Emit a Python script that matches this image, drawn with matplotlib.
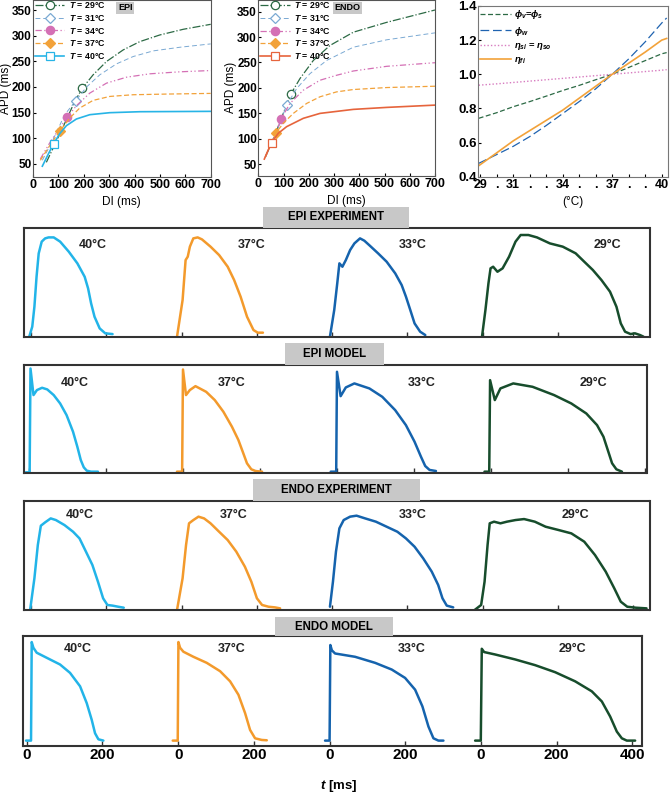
import matplotlib
matplotlib.use('Agg')
import matplotlib.pyplot as plt
from matplotlib.patches import Rectangle

plt.rcParams['font.family'] = ['Liberation Sans', 'DejaVu Sans']
plt.rcParams['font.weight'] = 'bold'
plt.rcParams['mathtext.fontset'] = 'custom'
plt.rcParams['mathtext.it'] = 'Liberation Sans:italic:bold'
plt.rcParams['mathtext.rm'] = 'Liberation Sans:bold'

# ---- restitution curves (top left / top middle) ----
rest_labels = ['29', '31', '34', '37', '40']

epi_di = [
    [52.6, 92, 131.6, 164.5, 194.7, 236.8, 289.5, 355.3, 421, 500, 592, 700],
    [36.8, 79, 125, 168.4, 210.5, 263, 329, 394.7, 473.7, 579, 700],
    [29, 65.8, 105.3, 134.2, 171, 223.7, 289.5, 368.4, 460.5, 579, 700],
    [29, 65.8, 105.3, 144.7, 184.2, 236.8, 302.6, 394.7, 526.3, 700],
    [36.8, 59.2, 81.6, 105.3, 131.6, 171, 223.7, 302.6, 421, 700],
]
epi_apd = [
    [53, 94, 136.2, 171.8, 197.7, 223.6, 249.6, 272.2, 288.4, 301.4, 312.4, 322.1],
    [57, 97.3, 146, 173, 199.7, 223.6, 245, 259.3, 270.3, 277.4, 283.9],
    [59.7, 90.8, 120, 140.7, 163.4, 188, 207.4, 219, 225.6, 229.5, 232],
    [57, 85.6, 113.5, 139.4, 158.9, 173.8, 181.5, 184.8, 186.1, 187.4],
    [45.5, 68.1, 89.5, 109, 124.5, 137.5, 145.9, 149.8, 151.7, 152.4],
]
epi_mark_di = [194.7, 168.4, 134.2, 105.3, 81.6]
epi_mark_apd = [197.7, 173, 140.7, 113.5, 89.5]

endo_di = [
    [28, 46, 66, 99, 128, 165, 218, 284, 376.5, 508.6, 700],
    [28, 46, 66, 112.3, 152, 204.8, 270.8, 376.5, 508.6, 700],
    [28, 46, 59.4, 89.8, 125.5, 178.3, 244.4, 310.4, 376.5, 508.6, 700],
    [28, 46, 52.8, 68.7, 99, 138.7, 191.5, 244.4, 310.4, 376.5, 508.6, 700],
    [23.8, 39.6, 52.8, 79.3, 112.3, 178.3, 244.4, 376.5, 508.6, 700],
]
endo_apd = [
    [64, 84, 107.3, 149.7, 187, 218.2, 254, 283.5, 309.6, 329, 353.3],
    [64, 84, 104, 166, 198.7, 228, 254, 280, 294.6, 308.3],
    [64, 84, 97.5, 138.6, 169.3, 195.4, 215, 224.8, 233.2, 242.4, 249.5],
    [64, 84, 92.3, 110.6, 130.2, 149.7, 169.3, 182.4, 192.1, 196.7, 200.6, 203.2],
    [59.7, 78, 92.3, 110.6, 123.6, 140, 149.7, 157.6, 161.5, 166],
]
endo_mark_di = [128, 112.3, 89.8, 68.7, 52.8]
endo_mark_apd = [187, 166, 138.6, 110.6, 92.3]

# ---- temperature factors (top right) ----
temps = [28.9, 30, 31, 32, 33, 34, 35, 36, 37, 38, 39, 40, 40.3]
phi_vs = [0.742, 0.775, 0.81, 0.84, 0.872, 0.905, 0.935, 0.968, 1.0, 1.04, 1.08, 1.12, 1.127]
phi_w = [0.478, 0.53, 0.578, 0.635, 0.70, 0.77, 0.84, 0.915, 1.0, 1.09, 1.19, 1.30, 1.33]
eta_s = [0.936, 0.944, 0.952, 0.96, 0.968, 0.976, 0.984, 0.992, 1.0, 1.008, 1.016, 1.024, 1.027]
eta_fi = [0.464, 0.54, 0.61, 0.67, 0.73, 0.79, 0.86, 0.93, 1.0, 1.065, 1.13, 1.20, 1.21]
temp_ticks = [29, 30, 31, 32, 33, 34, 35, 36, 37, 38, 39, 40]
temp_ticklabels = ['29', '.', '31', '.', '.', '34', '.', '.', '37', '.', '.', '40']

# ---- action potentials (bottom strips), order 40, 37, 33, 29 ----
ap_temps = ['40°C', '37°C', '33°C', '29°C']
seg_start = [0, 400, 800, 1200]

epi_exp_t = [
    [-4.7, 3.3, 9.0, 14.7, 20.4, 28.4, 37.5, 46.6, 60.3, 77.4, 100.3, 123.1, 142.5, 151.6, 159.6, 168.7, 182.4, 197.2, 216.6],
    [-12.2, 2.6, 10.6, 16.3, 22.0, 31.1, 42.6, 54.0, 76.8, 99.6, 122.4, 139.5, 156.7, 173.8, 190.9, 202.3, 216.0],
    [-6.0, 5.4, 13.4, 19.1, 27.1, 36.2, 47.6, 59.0, 73.9, 85.3, 99.0, 121.8, 144.6, 167.4, 184.5, 195.9, 207.4, 218.8, 233.6, 247.3],
    [-2.1, 7.0, 15.0, 20.6, 27.5, 38.9, 52.6, 69.8, 86.9, 100.6, 121.1, 143.9, 178.2, 212.4, 246.6, 269.5, 292.3, 315.1, 337.9, 355.0, 366.5, 377.9, 392.7, 404.1, 417.8, 426.9],
]
epi_exp_v = [
    [0, 0.092, 0.275, 0.55, 0.764, 0.872, 0.902, 0.911, 0.911, 0.872, 0.78, 0.673, 0.55, 0.443, 0.306, 0.183, 0.076, 0.031, 0.024],
    [0, 0.336, 0.703, 0.734, 0.826, 0.902, 0.911, 0.893, 0.826, 0.749, 0.642, 0.52, 0.367, 0.183, 0.061, 0.037, 0.037],
    [0, 0.245, 0.489, 0.673, 0.642, 0.703, 0.795, 0.856, 0.902, 0.881, 0.838, 0.765, 0.688, 0.581, 0.474, 0.367, 0.245, 0.122, 0.046, 0.015],
    [0, 0.245, 0.489, 0.627, 0.642, 0.596, 0.627, 0.734, 0.872, 0.933, 0.933, 0.911, 0.856, 0.826, 0.765, 0.688, 0.612, 0.52, 0.413, 0.275, 0.122, 0.046, 0.024, 0.031, 0.015, 0],
]

epi_mod_t = [
    [-8.4, 1.7, 3.9, 11.7, 20.6, 34.0, 47.4, 64.2, 80.9, 97.6, 114.4, 125.5, 134.5, 142.3, 150.1, 161.2, 179.1],
    [-15.6, -2.2, 0.0, 7.8, 17.8, 32.4, 60.2, 82.6, 104.9, 127.2, 143.9, 155.1, 166.2, 177.4, 188.5, 205.3],
    [-16.2, -2.0, 0.0, 9.5, 22.9, 45.2, 84.2, 117.7, 151.1, 179.0, 201.4, 218.1, 229.2, 240.4, 257.1],
    [-16.8, -4.5, -2.3, 10.0, 24.5, 57.9, 108.1, 163.9, 208.6, 247.6, 275.5, 292.2, 303.4, 314.6, 325.7, 340.2],
]
epi_mod_v = [
    [0.009, 0.009, 0.963, 0.719, 0.765, 0.786, 0.771, 0.719, 0.642, 0.535, 0.382, 0.245, 0.122, 0.055, 0.024, 0.015, 0.015],
    [0.015, 0.015, 0.954, 0.719, 0.765, 0.801, 0.749, 0.673, 0.566, 0.428, 0.306, 0.199, 0.092, 0.037, 0.021, 0.015],
    [0.015, 0.015, 0.933, 0.709, 0.789, 0.826, 0.78, 0.703, 0.581, 0.443, 0.291, 0.153, 0.067, 0.031, 0.021],
    [0.015, 0.015, 0.856, 0.673, 0.78, 0.826, 0.795, 0.719, 0.642, 0.55, 0.443, 0.336, 0.214, 0.092, 0.037, 0.015],
]

endo_exp_t = [
    [-2.4, 9.0, 18.1, 26.1, 37.5, 52.3, 66.0, 88.9, 111.7, 128.8, 145.9, 163.0, 177.8, 191.5, 202.9, 216.6, 231.5, 246.3],
    [-12.2, 2.6, 11.8, 19.7, 31.2, 44.8, 59.7, 76.8, 99.6, 122.4, 145.2, 168.1, 185.2, 200.0, 213.7, 230.8, 247.9, 261.6],
    [-6.0, 2.0, 10.0, 19.1, 30.5, 47.6, 64.7, 87.5, 116.1, 144.6, 173.1, 195.9, 218.8, 241.6, 264.4, 281.5, 292.9, 304.3, 321.4],
    [-25.0, -4.4, 4.7, 12.7, 18.4, 29.8, 46.9, 64.1, 86.9, 109.7, 138.2, 166.8, 201.0, 235.2, 269.5, 298.0, 326.5, 349.3, 366.5, 383.6, 406.4, 434.9],
]
endo_exp_v = [
    [0, 0.29, 0.595, 0.771, 0.802, 0.838, 0.823, 0.777, 0.716, 0.655, 0.534, 0.412, 0.259, 0.107, 0.046, 0.04, 0.03, 0.021],
    [0, 0.29, 0.595, 0.793, 0.823, 0.854, 0.838, 0.793, 0.716, 0.64, 0.534, 0.396, 0.259, 0.107, 0.046, 0.03, 0.024, 0.015],
    [0.03, 0.259, 0.534, 0.747, 0.823, 0.854, 0.863, 0.838, 0.808, 0.762, 0.716, 0.655, 0.579, 0.473, 0.351, 0.229, 0.107, 0.04, 0.024],
    [-0.009, 0.046, 0.259, 0.595, 0.793, 0.808, 0.793, 0.808, 0.823, 0.832, 0.808, 0.762, 0.732, 0.701, 0.625, 0.503, 0.351, 0.198, 0.076, 0.03, 0.021, 0.015],
]

endo_mod_t = [
    [-1.8, 11.4, 13.2, 17.6, 26.4, 52.8, 88.0, 114.4, 140.9, 158.5, 171.7, 180.5, 189.3, 202.5],
    [-14.3, -1.1, 0.7, 5.1, 13.9, 40.3, 75.5, 110.8, 137.2, 159.2, 176.8, 190.0, 203.2, 220.9, 234.1],
    [-12.0, 0.0, 2.0, 6.0, 14.5, 67.3, 120.2, 164.2, 199.4, 225.9, 245.2, 261.1, 274.3, 287.5, 300.7],
    [-15.6, -0.6, 2.0, 8.2, 37.2, 90.1, 142.9, 195.8, 248.6, 292.6, 319.1, 341.1, 358.7, 371.9, 385.1, 407.1],
]
endo_mod_v = [
    [0.049, 0.049, 0.945, 0.893, 0.848, 0.802, 0.741, 0.665, 0.543, 0.39, 0.238, 0.116, 0.061, 0.049],
    [0.049, 0.049, 0.945, 0.893, 0.857, 0.811, 0.756, 0.68, 0.588, 0.466, 0.299, 0.146, 0.07, 0.055, 0.052],
    [0.049, 0.049, 0.918, 0.87, 0.841, 0.811, 0.756, 0.695, 0.619, 0.512, 0.36, 0.177, 0.07, 0.049, 0.049],
    [0.049, 0.049, 0.884, 0.854, 0.832, 0.787, 0.735, 0.671, 0.588, 0.497, 0.405, 0.268, 0.131, 0.07, 0.049, 0.049],
]

bottom_ticks = [0, 200, 400, 600, 800, 1000, 1200, 1400, 1600]
bottom_ticklabels = ['0', '200', '0', '200', '0', '200', '0', '200', '400']

# ---- styles ----
W, H = 670, 793
fig = plt.figure(figsize=(W / 100, H / 100), dpi=100)


def px_axes(l, t, r, b):
    return fig.add_axes([l / W, 1 - b / H, (r - l) / W, (b - t) / H])


rest_colors = ['#2c6a45', '#7aa9d3', '#d470b5', '#f2a23a', '#27b4e6']
endo40_color = '#e6643c'
rest_styles = ['-.', (0, (5, 3)), (0, (5, 2, 1, 2, 1, 2)), (0, (4, 2)), '-']
rest_markers = ['o', 'D', 'o', 'D', 's']
rest_filled = [False, False, True, True, False]
rest_ms = [6, 5, 6, 5, 6]
rest_lw = [0.9, 0.7, 0.9, 0.9, 1.2]
ap_colors = ['#22b4e8', '#f39a2c', '#1563ad', '#174d2c']
spine_col = '#555555'


def restitution(ax, dis, apds, mdis, mapds, tag, tagx, ylim, last_color):
    for i in range(5):
        col = last_color if i == 4 else rest_colors[i]
        fc = col if rest_filled[i] else 'white'
        ax.plot(dis[i], apds[i], color=col, ls=rest_styles[i], lw=rest_lw[i])
        ax.plot(mdis[i], mapds[i], marker=rest_markers[i], ms=rest_ms[i],
                mfc=fc, mec=col, mew=0.9, ls='none')
        ax.plot([], [], color=col, ls=rest_styles[i], lw=rest_lw[i],
                marker=rest_markers[i], ms=rest_ms[i], mfc=fc, mec=col, mew=0.9,
                label=r'$T$ = ' + rest_labels[i] + '°C')
    ax.set_xlim(0, 700)
    ax.set_ylim(*ylim)
    ax.set_xticks(range(0, 701, 100))
    ax.set_yticks(range(50, 351, 50))
    ax.tick_params(axis='x', labelsize=9, direction='in', length=2, pad=2)
    ax.tick_params(axis='y', labelsize=8.5, direction='in', length=2, pad=1)
    for s in ax.spines.values():
        s.set_color(spine_col)
        s.set_linewidth(0.8)
    ax.set_xlabel('DI (ms)', fontsize=8.5, labelpad=3)
    ax.set_ylabel('APD (ms)', fontsize=8.5)
    ax.yaxis.set_label_coords(-0.118, 0.5)
    ax.legend(loc='upper left', bbox_to_anchor=(-0.02, 1.03), frameon=False,
              fontsize=6.3, handlelength=3.4, labelspacing=0.32,
              handletextpad=0.5, borderaxespad=0.2)
    ax.text(tagx, 0.955, tag, transform=ax.transAxes,
            fontsize=6.5, ha='center', va='center',
            bbox=dict(boxstyle='square,pad=0.2', fc='#c8c8c8', ec='none'))


ax1 = px_axes(33, 0, 210.7, 176.7)
restitution(ax1, epi_di, epi_apd, epi_mark_di, epi_mark_apd, 'EPI', 0.52, (25, 369.5), rest_colors[4])

ax2 = px_axes(258.3, 0, 435, 175.7)
restitution(ax2, endo_di, endo_apd, endo_mark_di, endo_mark_apd, 'ENDO', 0.505, (27, 373), endo40_color)

ax3 = px_axes(478.3, 6, 668.3, 176.7)
ax3.plot(temps, phi_vs, color='#2c6a45', ls=(0, (4, 2)), lw=0.9, label=r'$\phi_v$=$\phi_s$')
ax3.plot(temps, phi_w, color='#1f63b0', ls=(0, (7, 3)), lw=0.9, label=r'$\phi_w$')
ax3.plot(temps, eta_s, color='#d77cc0', ls=(0, (1, 1.5)), lw=1.0, label=r'$\eta_{si}$ = $\eta_{so}$')
ax3.plot(temps, eta_fi, color='#f2a23a', ls='-', lw=1.2, label=r'$\eta_{fi}$')
ax3.set_xlim(28.88, 40.4)
ax3.set_ylim(0.4, 1.4)
ax3.set_xticks(temp_ticks)
ax3.set_xticklabels(temp_ticklabels)
ax3.set_yticks([0.4, 0.6, 0.8, 1.0, 1.2, 1.4])
ax3.set_yticklabels(['0.4', '0.6', '0.8', '1.0', '1.2', '1.4'])
ax3.tick_params(axis='x', labelsize=9, direction='in', length=2, pad=2)
ax3.tick_params(axis='y', labelsize=9.5, direction='in', length=2, pad=1)
for s in ax3.spines.values():
    s.set_color('#777777')
    s.set_linewidth(0.8)
ax3.set_xlabel('(°C)', fontsize=8.5, labelpad=3)
ax3.legend(loc='upper left', bbox_to_anchor=(-0.02, 1.02), frameon=False,
           fontsize=6.8, handlelength=3.3, labelspacing=0.35,
           handletextpad=0.3, borderaxespad=0.2)

# ---- bottom strips ----
strips = [
    ('EPI EXPERIMENT', (23.6, 227.7, 649.5, 336.7), (-19.7, 1642.8), (263, 207, 409, 227.7),
     epi_exp_t, epi_exp_v, [(163, 0.84), (185, 0.84), (215, 0.84), (330, 0.84)]),
    ('EPI MODEL', (23.6, 364.5, 646.5, 473.3), (-14, 1604), (284.8, 343.3, 383.6, 364.5),
     epi_mod_t, epi_mod_v, [(120, 0.83), (127, 0.83), (221, 0.83), (267, 0.83)]),
    ('ENDO EXPERIMENT', (23.6, 500.7, 649.5, 610), (-19.7, 1642.8), (252.6, 479.3, 419.7, 500.7),
     endo_exp_t, endo_exp_v, [(129, 0.87), (137, 0.87), (215, 0.87), (247, 0.87)]),
    ('ENDO MODEL', (22.7, 636, 642.3, 746), (-10.6, 1626), (275, 617, 393, 636),
     endo_mod_t, endo_mod_v, [(136, 0.88), (141, 0.88), (217, 0.88), (242, 0.88)]),
]

for k, (title, box, xl, lbox, ts, vs, lab_pos) in enumerate(strips):
    ax = px_axes(*box)
    for i in range(4):
        ax.plot([t + seg_start[i] for t in ts[i]], vs[i], color=ap_colors[i], lw=1.8,
                solid_joinstyle='round', solid_capstyle='round')
        ax.text(lab_pos[i][0] + seg_start[i], lab_pos[i][1], ap_temps[i],
                fontsize=9, ha='center', va='center', color='#222222')
    ax.set_xlim(*xl)
    ax.set_ylim(0, 1)
    ax.set_yticks([])
    ax.set_xticks(bottom_ticks)
    ax.tick_params(axis='x', direction='in', length=3.5, width=1.0, color='#333333', pad=1.5)
    if k == 3:
        ax.set_xticklabels(bottom_ticklabels, fontsize=11)
    else:
        ax.set_xticklabels([])
    for s in ax.spines.values():
        s.set_color('#333333')
        s.set_linewidth(1.5)
    l, t, r, b = lbox
    fig.patches.append(Rectangle((l / W, 1 - b / H), (r - l) / W, (b - t) / H,
                                 transform=fig.transFigure, fc='#c8c8c8', ec='none', zorder=0))
    fig.text((l + r) / 2 / W, 1 - (t + b) / 2 / H, title, fontsize=8.3, ha='center', va='center')

fig.text(339 / W, 1 - 786 / H, r'$t$ [ms]', fontsize=9.5, ha='center', va='center')

fig.savefig('out.png', dpi=100)
